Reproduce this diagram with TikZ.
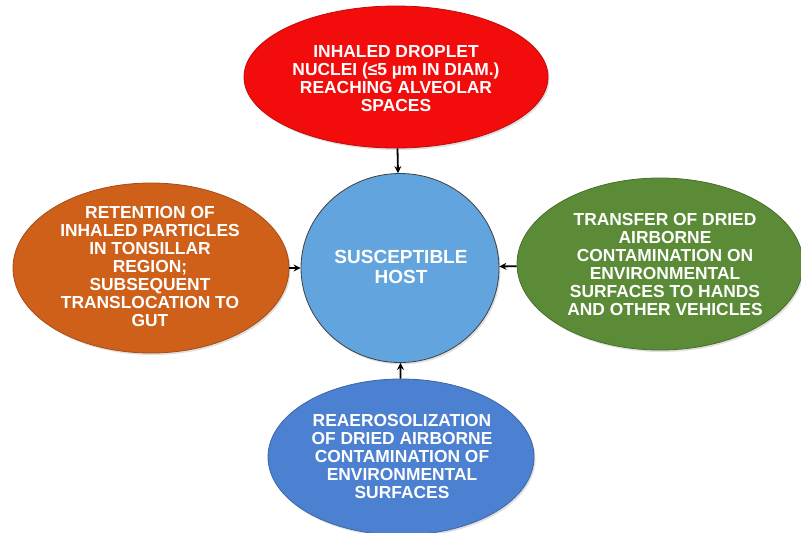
\documentclass[tikz,border=0pt]{standalone}
\usepackage{fontspec}
\setmainfont{Liberation Sans}
\usetikzlibrary{shapes.geometric,shadows,arrows.meta}

\definecolor{dropred}{RGB}{242,12,12}
\definecolor{tonsilorange}{RGB}{206,96,26}
\definecolor{handgreen}{RGB}{92,139,56}
\definecolor{hostblue}{RGB}{98,164,222}
\definecolor{dustblue}{RGB}{76,128,208}

\begin{document}
\begin{tikzpicture}[x=1pt, y=-1pt, >={Stealth[length=7pt,width=7pt]},
    blob/.style={ellipse, inner sep=0pt, line width=0.8pt,
      drop shadow={opacity=0.25, shadow xshift=1.5pt, shadow yshift=-2pt}},
    txt/.style={text=white, align=center, inner sep=0pt,
      font=\bfseries\fontsize{17.4}{18}\selectfont}]
  \useasboundingbox (0,0) rectangle (801,533);

  % the host
  \node[blob, fill=hostblue, draw=black!75, minimum width=198pt, minimum height=189pt] (host) at (400,268) {};
  \node[txt, font=\bfseries\fontsize{19}{20}\selectfont] at (401,267) {SUSCEPTIBLE\\HOST};

  % routes
  \node[blob, fill=dropred, draw=dropred!80!black, minimum width=304pt, minimum height=142pt] (drop) at (396,77) {};
  \node[txt] at (396,79) {INHALED DROPLET\\NUCLEI (≤5 µm IN DIAM.)\\REACHING ALVEOLAR\\SPACES};

  \node[blob, fill=tonsilorange, draw=tonsilorange!80!black, minimum width=276pt, minimum height=170pt] (tonsil) at (151,268) {};
  \node[txt] at (150,267) {RETENTION OF\\INHALED PARTICLES\\IN TONSILLAR\\REGION;\\SUBSEQUENT\\TRANSLOCATION TO\\GUT};

  \node[blob, fill=handgreen, draw=handgreen!80!black, minimum width=286pt, minimum height=172pt] (hands) at (660,264) {};
  \node[txt] at (665,265) {TRANSFER OF DRIED\\AIRBORNE\\CONTAMINATION ON\\ENVIRONMENTAL\\SURFACES TO HANDS\\AND OTHER VEHICLES};

  \node[blob, fill=dustblue, draw=dustblue!80!black, minimum width=266pt, minimum height=156pt] (dust) at (401,457) {};
  \node[txt] at (402,457) {REAEROSOLIZATION\\OF DRIED AIRBORNE\\CONTAMINATION OF\\ENVIRONMENTAL\\SURFACES};

  % arrows into the host
  \foreach \s in {drop,tonsil,hands,dust}
    \draw[->, line width=1.8pt] (\s) -- (host);
\end{tikzpicture}
\end{document}
